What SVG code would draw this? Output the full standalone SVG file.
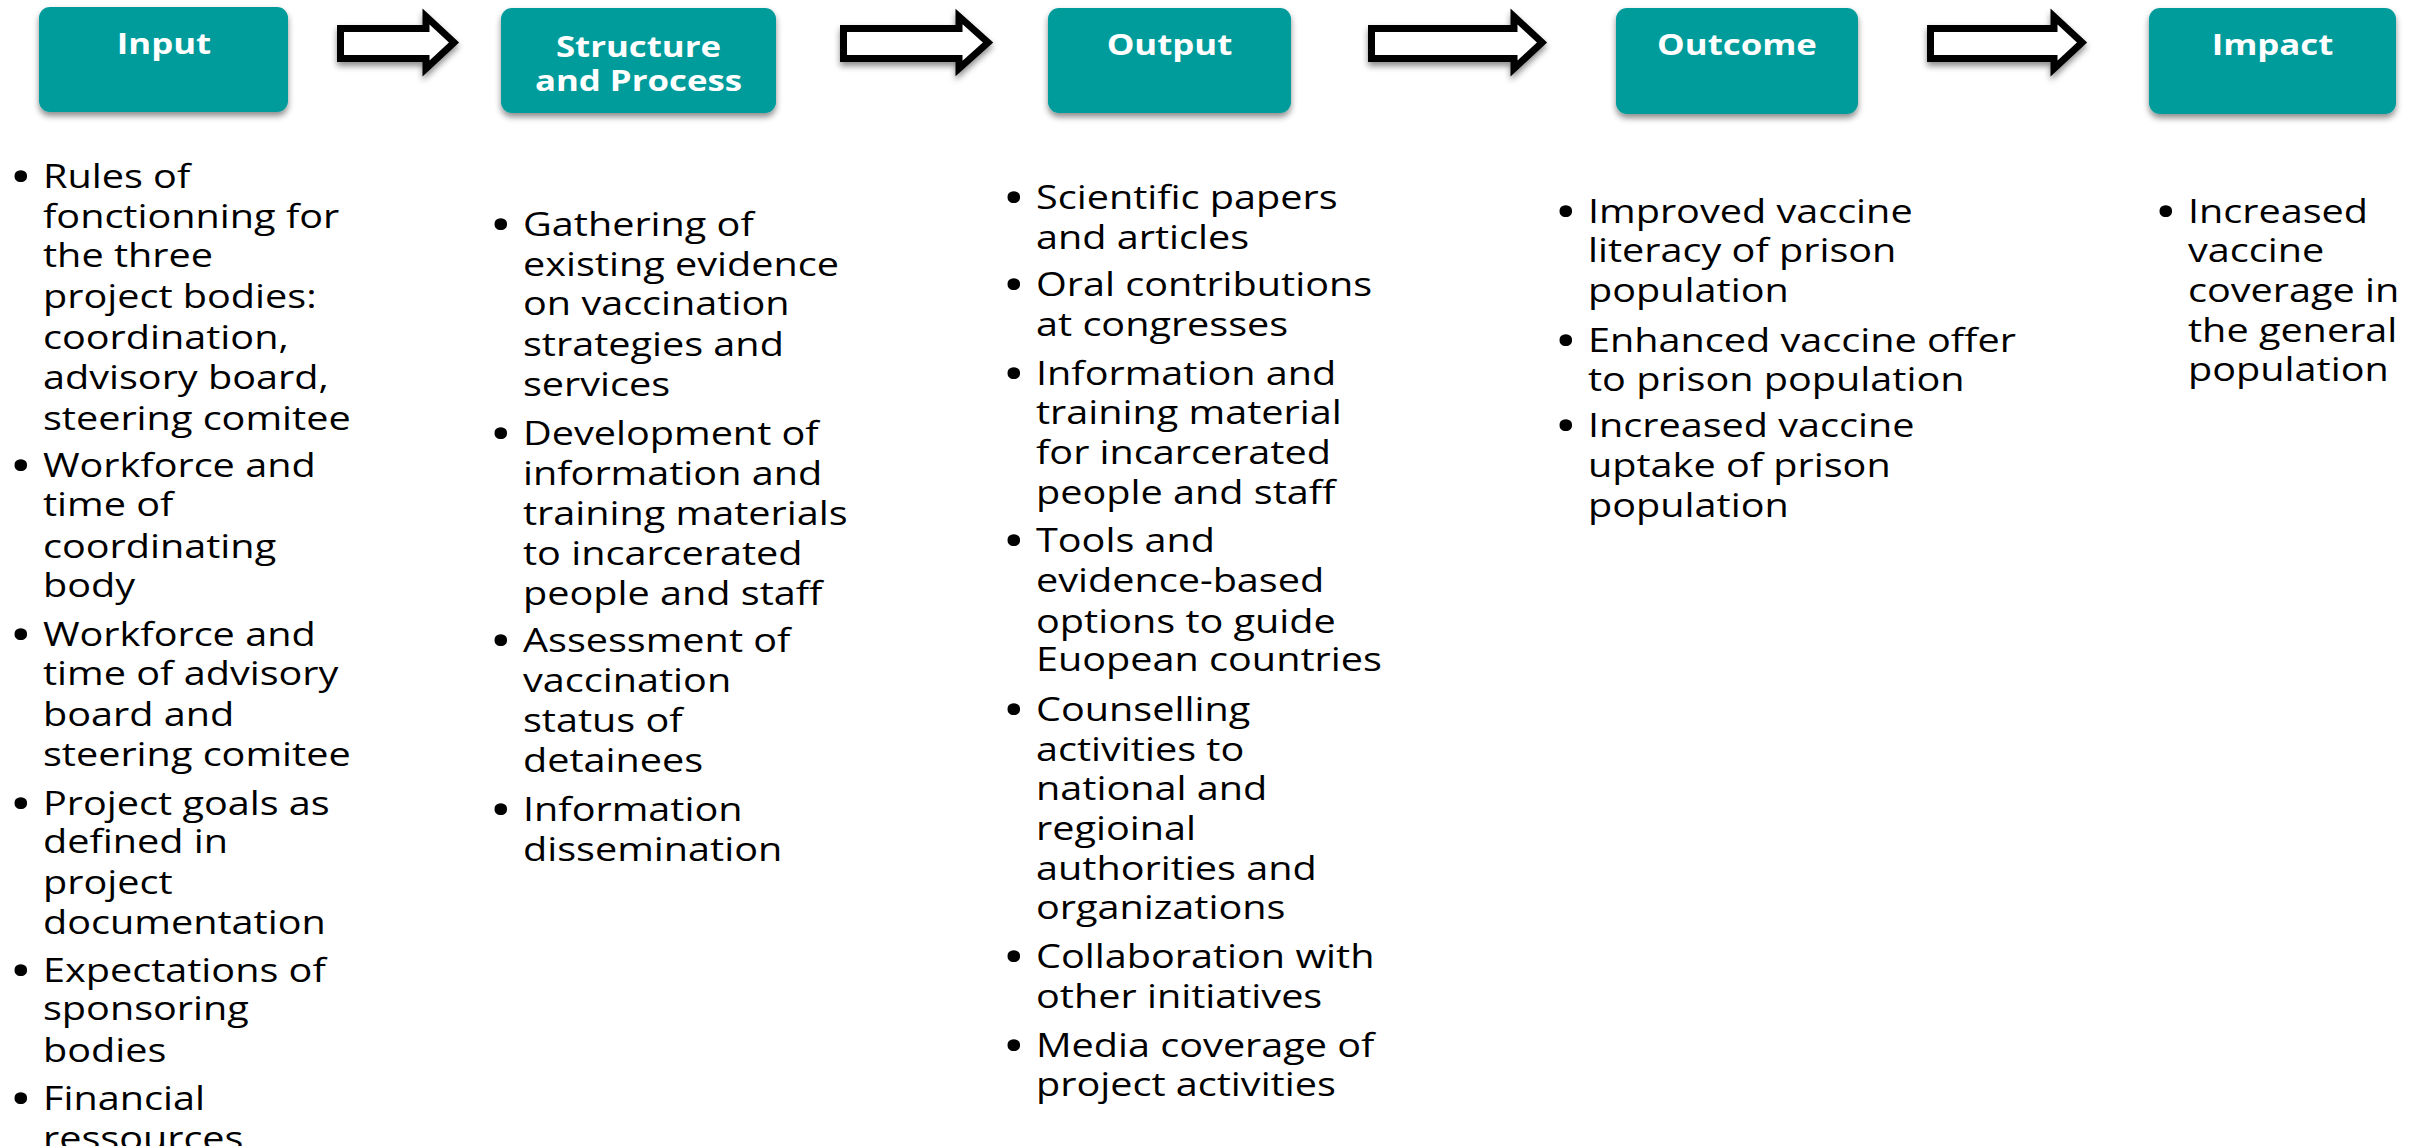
<svg xmlns="http://www.w3.org/2000/svg" width="2423" height="1146" viewBox="0 0 2423 1146">
<style>
.box{fill:#069c9b;}
.bt{font-family:"Open Sans","Liberation Sans",sans-serif;font-weight:bold;font-size:29px;fill:#ffffff;text-anchor:middle;}
.tx{font-family:"Open Sans","Liberation Sans",sans-serif;font-size:33px;fill:#000000;}
.bu{font-family:"Open Sans","Liberation Sans",sans-serif;font-size:50px;fill:#000000;}
.arr{fill:#ffffff;stroke:#000000;stroke-width:7;stroke-linejoin:miter;stroke-miterlimit:10;}
</style>
<defs>
<filter id="sh" x="-10%" y="-20%" width="120%" height="150%">
<feDropShadow dx="0" dy="4" stdDeviation="3" flood-color="#000000" flood-opacity="0.45"/>
</filter>
</defs>
<rect width="2423" height="1146" fill="#ffffff"/>

<g id="connectors">
<path class="arr" filter="url(#sh)" d="M340.5,28.5 H426 V16.5 L454,42.5 L426,68.5 V58.5 H340.5 Z"/>
<path class="arr" filter="url(#sh)" d="M843.5,28.5 H959 V16.5 L988,42.5 L959,68.5 V58.5 H843.5 Z"/>
<path class="arr" filter="url(#sh)" d="M1371.5,28.5 H1514 V16.5 L1542,42.5 L1514,68.5 V58.5 H1371.5 Z"/>
<path class="arr" filter="url(#sh)" d="M1930.5,28.5 H2054 V16.5 L2082,42.5 L2054,68.5 V58.5 H1930.5 Z"/>
</g>

<g id="input">
<rect class="box" filter="url(#sh)" x="39" y="7" width="249" height="105" rx="11"/>
<text class="bt" transform="translate(164,54) scale(1.2,1)">Input</text>
<g transform="translate(43,0) scale(1.2,1)">
<text class="bu" x="-28" y="194">•</text>
<text class="tx" x="0" y="188">Rules of</text>
<text class="tx" x="0" y="228">fonctionning for</text>
<text class="tx" x="0" y="267">the three</text>
<text class="tx" x="0" y="308">project bodies:</text>
<text class="tx" x="0" y="349">coordination,</text>
<text class="tx" x="0" y="389">advisory board,</text>
<text class="tx" x="0" y="430">steering comitee</text>
<text class="bu" x="-28" y="483">•</text>
<text class="tx" x="0" y="477">Workforce and</text>
<text class="tx" x="0" y="516">time of</text>
<text class="tx" x="0" y="558">coordinating</text>
<text class="tx" x="0" y="597">body</text>
<text class="bu" x="-28" y="652">•</text>
<text class="tx" x="0" y="646">Workforce and</text>
<text class="tx" x="0" y="685">time of advisory</text>
<text class="tx" x="0" y="726">board and</text>
<text class="tx" x="0" y="766">steering comitee</text>
<text class="bu" x="-28" y="821">•</text>
<text class="tx" x="0" y="815">Project goals as</text>
<text class="tx" x="0" y="853">defined in</text>
<text class="tx" x="0" y="894">project</text>
<text class="tx" x="0" y="934">documentation</text>
<text class="bu" x="-28" y="988">•</text>
<text class="tx" x="0" y="982">Expectations of</text>
<text class="tx" x="0" y="1020">sponsoring</text>
<text class="tx" x="0" y="1062">bodies</text>
<text class="bu" x="-28" y="1116">•</text>
<text class="tx" x="0" y="1110">Financial</text>
<text class="tx" x="0" y="1150">ressources</text>
</g>
</g>

<g id="structure">
<rect class="box" filter="url(#sh)" x="501" y="8" width="275" height="105" rx="11"/>
<text class="bt" transform="translate(638.5,57) scale(1.2,1)">Structure</text>
<text class="bt" transform="translate(638.5,91) scale(1.2,1)">and Process</text>
<g transform="translate(523,0) scale(1.2,1)">
<text class="bu" x="-28" y="242">•</text>
<text class="tx" x="0" y="236">Gathering of</text>
<text class="tx" x="0" y="276">existing evidence</text>
<text class="tx" x="0" y="315">on vaccination</text>
<text class="tx" x="0" y="356">strategies and</text>
<text class="tx" x="0" y="396">services</text>
<text class="bu" x="-28" y="451">•</text>
<text class="tx" x="0" y="445">Development of</text>
<text class="tx" x="0" y="485">information and</text>
<text class="tx" x="0" y="525">training materials</text>
<text class="tx" x="0" y="565">to incarcerated</text>
<text class="tx" x="0" y="605">people and staff</text>
<text class="bu" x="-28" y="658">•</text>
<text class="tx" x="0" y="652">Assessment of</text>
<text class="tx" x="0" y="692">vaccination</text>
<text class="tx" x="0" y="732">status of</text>
<text class="tx" x="0" y="772">detainees</text>
<text class="bu" x="-28" y="827">•</text>
<text class="tx" x="0" y="821">Information</text>
<text class="tx" x="0" y="861">dissemination</text>
</g>
</g>

<g id="output">
<rect class="box" filter="url(#sh)" x="1048" y="8" width="243" height="105" rx="11"/>
<text class="bt" transform="translate(1169.5,55) scale(1.2,1)">Output</text>
<g transform="translate(1036,0) scale(1.2,1)">
<text class="bu" x="-28" y="215">•</text>
<text class="tx" x="0" y="209">Scientific papers</text>
<text class="tx" x="0" y="249">and articles</text>
<text class="bu" x="-28" y="302">•</text>
<text class="tx" x="0" y="296">Oral contributions</text>
<text class="tx" x="0" y="336">at congresses</text>
<text class="bu" x="-28" y="391">•</text>
<text class="tx" x="0" y="385">Information and</text>
<text class="tx" x="0" y="424">training material</text>
<text class="tx" x="0" y="464">for incarcerated</text>
<text class="tx" x="0" y="504">people and staff</text>
<text class="bu" x="-28" y="558">•</text>
<text class="tx" x="0" y="552">Tools and</text>
<text class="tx" x="0" y="592">evidence-based</text>
<text class="tx" x="0" y="633">options to guide</text>
<text class="tx" x="0" y="671">Euopean countries</text>
<text class="bu" x="-28" y="727">•</text>
<text class="tx" x="0" y="721">Counselling</text>
<text class="tx" x="0" y="761">activities to</text>
<text class="tx" x="0" y="800">national and</text>
<text class="tx" x="0" y="840">regioinal</text>
<text class="tx" x="0" y="880">authorities and</text>
<text class="tx" x="0" y="919">organizations</text>
<text class="bu" x="-28" y="974">•</text>
<text class="tx" x="0" y="968">Collaboration with</text>
<text class="tx" x="0" y="1008">other initiatives</text>
<text class="bu" x="-28" y="1063">•</text>
<text class="tx" x="0" y="1057">Media coverage of</text>
<text class="tx" x="0" y="1096">project activities</text>
</g>
</g>

<g id="outcome">
<rect class="box" filter="url(#sh)" x="1616" y="8" width="242" height="106" rx="11"/>
<text class="bt" transform="translate(1737,55) scale(1.2,1)">Outcome</text>
<g transform="translate(1588,0) scale(1.2,1)">
<text class="bu" x="-28" y="229">•</text>
<text class="tx" x="0" y="223">Improved vaccine</text>
<text class="tx" x="0" y="262">literacy of prison</text>
<text class="tx" x="0" y="302">population</text>
<text class="bu" x="-28" y="358">•</text>
<text class="tx" x="0" y="352">Enhanced vaccine offer</text>
<text class="tx" x="0" y="391">to prison population</text>
<text class="bu" x="-28" y="443">•</text>
<text class="tx" x="0" y="437">Increased vaccine</text>
<text class="tx" x="0" y="477">uptake of prison</text>
<text class="tx" x="0" y="517">population</text>
</g>
</g>

<g id="impact">
<rect class="box" filter="url(#sh)" x="2149" y="8" width="247" height="106" rx="11"/>
<text class="bt" transform="translate(2272.5,55) scale(1.2,1)">Impact</text>
<g transform="translate(2188,0) scale(1.2,1)">
<text class="bu" x="-28" y="229">•</text>
<text class="tx" x="0" y="223">Increased</text>
<text class="tx" x="0" y="262">vaccine</text>
<text class="tx" x="0" y="302">coverage in</text>
<text class="tx" x="0" y="342">the general</text>
<text class="tx" x="0" y="381">population</text>
</g>
</g>
</svg>
